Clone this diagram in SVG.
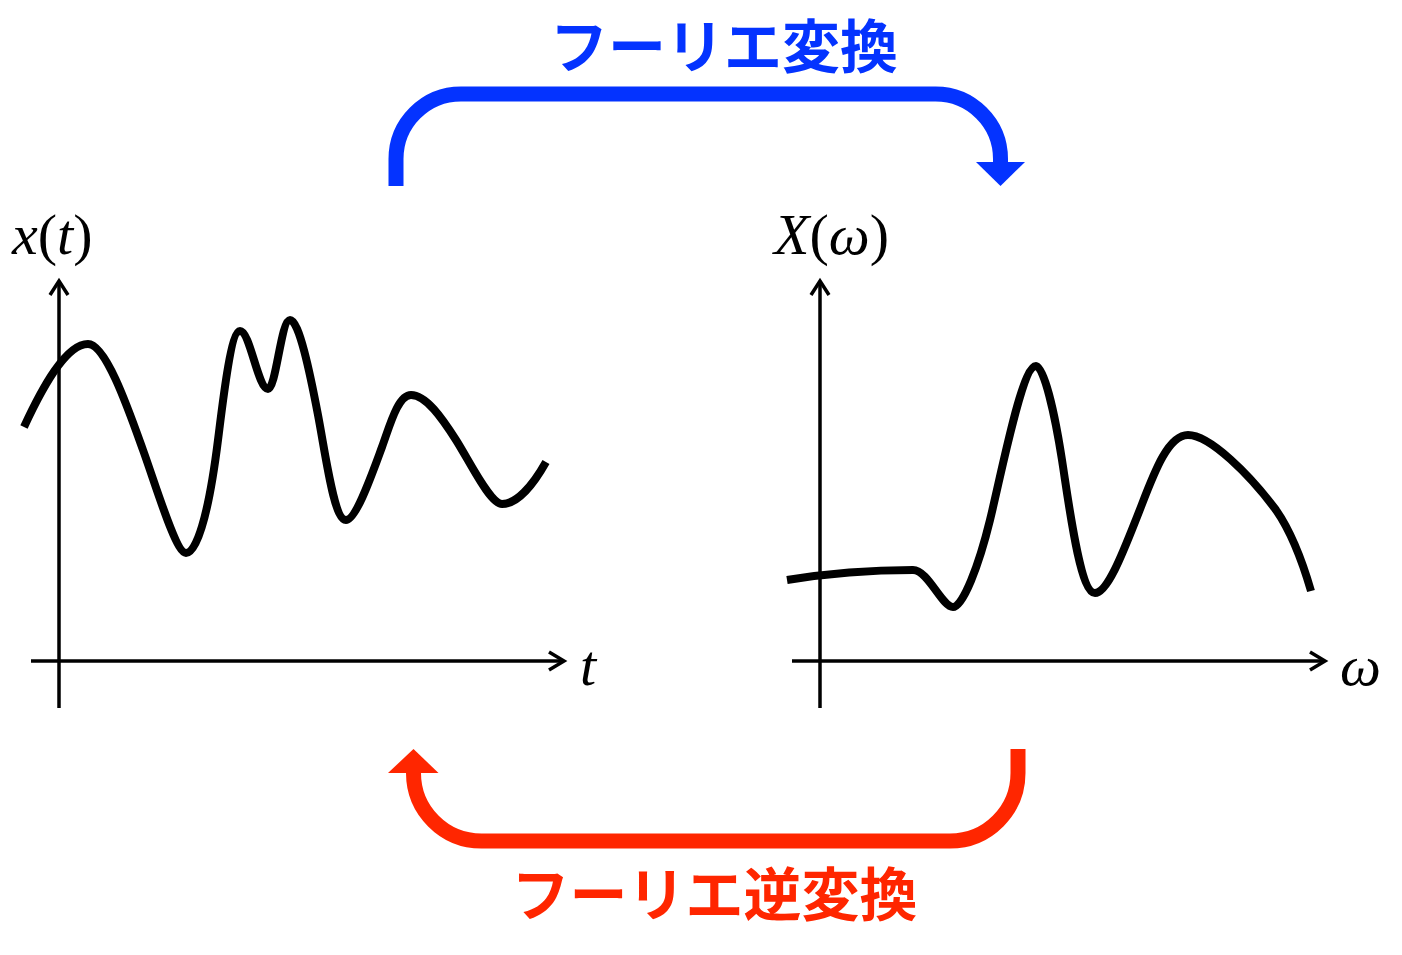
<svg xmlns="http://www.w3.org/2000/svg" width="1402" height="955" viewBox="0 0 1402 955">
<style>
.axis{fill:none;stroke:#000;stroke-width:3.5;stroke-linecap:butt;stroke-linejoin:miter}
.curve{fill:none;stroke:#000;stroke-width:8;stroke-linejoin:round}
.math{font-family:"Liberation Serif","Times New Roman",serif;font-size:58px;fill:#000}
.it{font-style:italic}
.jp{font-family:"Noto Sans CJK JP","Noto Sans",sans-serif;font-weight:bold;font-size:58px;text-anchor:middle}
</style>
<rect width="1402" height="955" fill="#fff"/>
<g id="time-graph">
  <line class="axis" x1="59" y1="708" x2="59" y2="283"/>
  <polyline class="axis" points="50,295 59,281 68,295"/>
  <line class="axis" x1="31" y1="661" x2="562" y2="661"/>
  <polyline class="axis" points="549,652 564,661 549,670"/>
  <path class="curve" d="M24,427 C42,388 66,344 88,344 C106,344 129,411 143,450 C157,489 176,553 186,553 C196,553 208,520 218,440 C223,400 231,331 240,331 C250,331 258,389 268,389 C276,389 281,320 290,320 C299,320 310,373 318,415 C326,457 334,520 346,520 C356,520 372,474 382,447 C390,425 398,395 411,395 C426,395 442,418 456,440 C470,462 490,504 502,504 C516,504 532,487 546,462"/>
  <text class="math" x="12" y="254"><tspan class="it">x</tspan>(<tspan class="it">t</tspan>)</text>
  <text class="math it" x="580" y="685">t</text>
</g>
<g id="freq-graph">
  <line class="axis" x1="820" y1="708" x2="820" y2="283"/>
  <polyline class="axis" points="811,295 820,281 829,295"/>
  <line class="axis" x1="792" y1="661" x2="1323" y2="661"/>
  <polyline class="axis" points="1310,652 1325,661 1310,670"/>
  <path class="curve" d="M787,580 C830,573 880,570 913,570 C928,570 942,607 953,607 C963,607 979,565 990,520 C1002,471 1022,366 1036,366 C1044,366 1055,415 1062,460 C1069,505 1080,593 1095,593 C1107,593 1122,555 1135,522 C1150,485 1165,435 1188,435 C1210,435 1250,475 1276,510 C1292,533 1302,560 1311,591"/>
  <text class="math" x="774" y="254"><tspan class="it">X</tspan>(<tspan class="it">ω</tspan>)</text>
  <text class="math it" x="1340" y="685">ω</text>
</g>
<g id="connectors">
  <g id="forward">
    <path d="M396,186 V159 A65 65 0 0 1 461,94 H935 A65 65 0 0 1 1000.5,159 V164" fill="none" stroke="#0433FF" stroke-width="15"/>
    <polygon points="976,162 1025,162 1000.5,186" fill="#0433FF"/>
  </g>
  <g id="inverse">
    <path d="M1018,749 V773 A68 68 0 0 1 950,841 H481.5 A68 68 0 0 1 413.5,773 V771" fill="none" stroke="#FF2600" stroke-width="15"/>
    <polygon points="388,773 438.5,773 413.5,749" fill="#FF2600"/>
  </g>
</g>
<g id="label-forward">
  <text class="jp" x="724" y="68" fill="#0433FF">フーリエ変換</text>
</g>
<g id="label-inverse">
  <text class="jp" x="714.5" y="916" fill="#FF2600">フーリエ逆変換</text>
</g>
</svg>
